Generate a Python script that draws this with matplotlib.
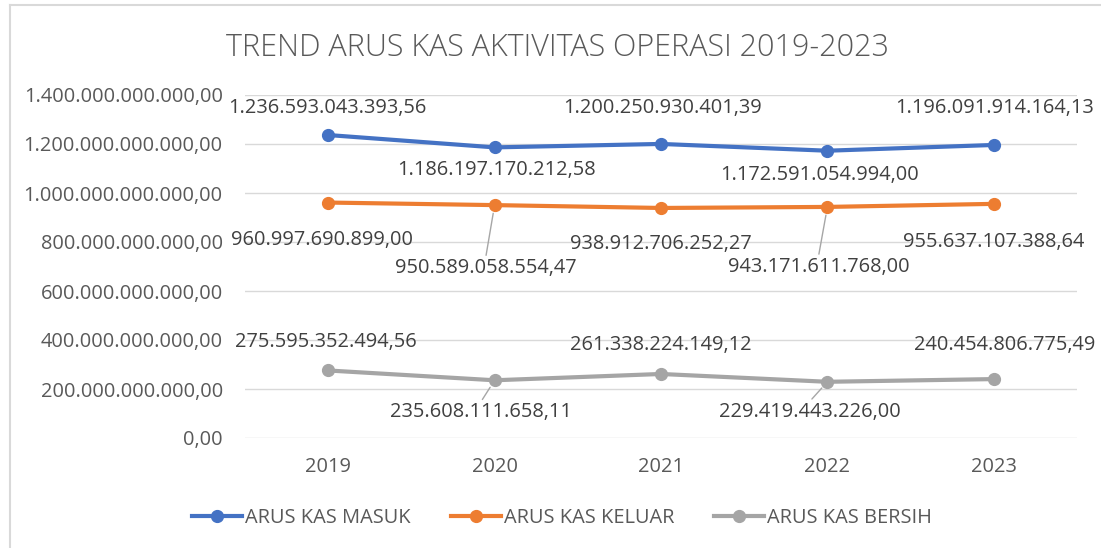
import matplotlib
matplotlib.use("Agg")
import matplotlib.pyplot as plt
from matplotlib.ticker import FuncFormatter, MultipleLocator
from matplotlib.lines import Line2D

years = ["2019", "2020", "2021", "2022", "2023"]
kas_masuk = [1236593043393.56, 1186197170212.58, 1200250930401.39, 1172591054994.00, 1196091914164.13]
kas_keluar = [960997690899.00, 950589058554.47, 938912706252.27, 943171611768.00, 955637107388.64]
kas_bersih = [275595352494.56, 235608111658.11, 261338224149.12, 229419443226.00, 240454806775.49]
series_names = ["ARUS KAS MASUK", "ARUS KAS KELUAR", "ARUS KAS BERSIH"]
title = "TREND ARUS KAS AKTIVITAS OPERASI 2019-2023"

colors = ["#4472C4", "#ED7D31", "#A5A5A5"]
# label offsets in pixels (dx, dy downward), leader flag
label_offsets = [
    [(-1, -27, 0), (2, 23, 0), (2, -36, 0), (-8, 24, 0), (1, -37, 0)],
    [(-6, 37, 0), (-9, 63, 1), (0, 36, 0), (-9, 60, 1), (0, 38, 0)],
    [(-2, -28, 0), (-14, 32, 1), (0, -29, 0), (-18, 30, 1), (11, -34, 0)],
]


def fmt_id(v, pos=None):
    s = format(v, ",.2f")
    return s.replace(",", "X").replace(".", ",").replace("X", ".")


plt.rcParams['font.family'] = ['Open Sans', 'DejaVu Sans']
fs = 14.4
px = 72 / 100  # points per pixel

fig = plt.figure(figsize=(11.01, 5.48), dpi=100)
ax = fig.add_axes([245 / 1101, 110 / 548, 832 / 1101, 343 / 548])

x = list(range(len(years)))
all_series = [kas_masuk, kas_keluar, kas_bersih]
for i, ys in enumerate(all_series):
    ax.plot(x, ys, color=colors[i], lw=3.0, marker="o", ms=8.5, zorder=3,
            solid_capstyle="round", label=series_names[i])
    for j, v in enumerate(ys):
        dx, dy, lead = label_offsets[i][j]
        kw = {}
        if lead:
            kw["arrowprops"] = dict(arrowstyle="-", color="#A6A6A6", lw=1,
                                    shrinkA=0, shrinkB=6, relpos=(0.5, 1.0))
        ax.annotate(fmt_id(v), (j, v), xytext=(dx * px, -dy * px),
                    textcoords="offset points", ha="center", va="center",
                    fontsize=fs, color="#404040", zorder=4, **kw)

ax.set_xlim(-0.5, len(years) - 0.5)
ax.set_ylim(0, 1.4e12)
ax.yaxis.set_major_locator(MultipleLocator(2e11))
ax.yaxis.set_major_formatter(FuncFormatter(fmt_id))
ax.set_xticks(x)
ax.set_xticklabels(years)
ax.grid(axis="y", color="#D9D9D9", lw=1)
ax.set_axisbelow(True)
for sp in ax.spines.values():
    sp.set_visible(False)
ax.tick_params(length=0, labelsize=fs, labelcolor="#595959")
ax.tick_params(axis="y", pad=16)
ax.tick_params(axis="x", pad=14)

fig.text(557 / 1101, 1 - 48 / 548, title, ha="center", va="center", fontsize=22,
         color="#595959", fontweight="light")

handles = [Line2D([], [], color=c, lw=3.0, marker="o", ms=8.5) for c in colors]
fig.legend(handles, series_names, loc="center", bbox_to_anchor=(562 / 1101, 1 - 518 / 548),
           ncol=3, frameon=False, fontsize=fs, labelcolor="#595959",
           handlelength=2.5, handletextpad=0.15, columnspacing=2.0)

# chart frame
fig.add_artist(Line2D([10 / 1101, 10 / 1101], [0, 1 - 5 / 548], color="#D9D9D9", lw=1.5,
                      transform=fig.transFigure))
fig.add_artist(Line2D([10 / 1101, 1], [1 - 5 / 548, 1 - 5 / 548], color="#D9D9D9", lw=1.5,
                      transform=fig.transFigure))

fig.savefig("out.png", dpi=100)
